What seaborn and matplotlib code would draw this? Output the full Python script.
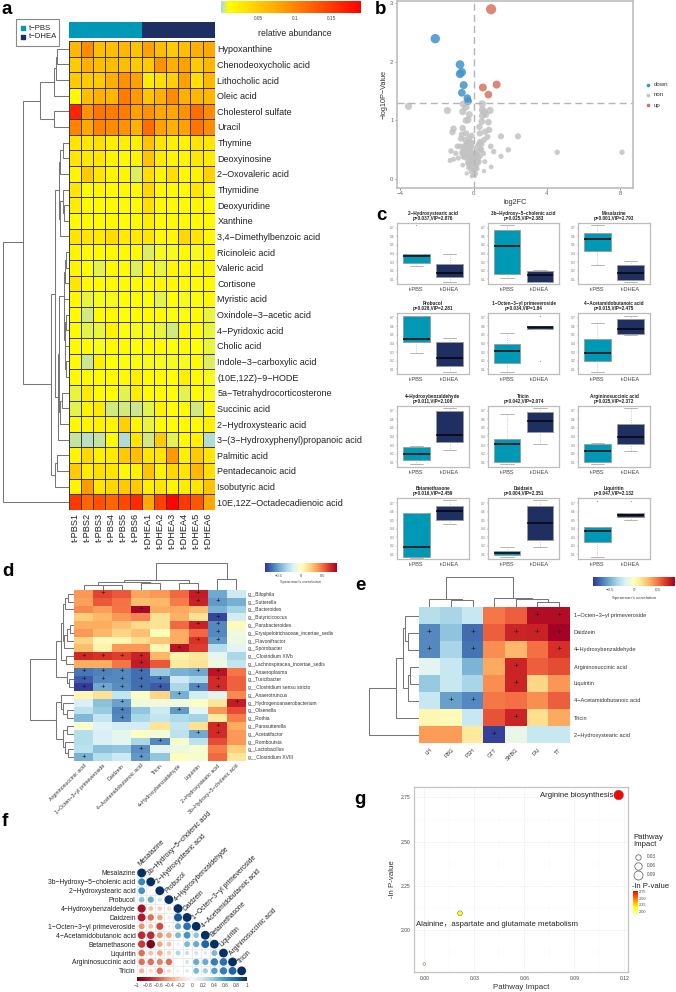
import numpy as np
import pandas as pd
import matplotlib
matplotlib.use("Agg")
import matplotlib.pyplot as plt
import seaborn as sns
from matplotlib.colors import LinearSegmentedColormap, ListedColormap

# ------- FIGURE SIZE ---------
W, H = 676, 992
PBS_COLOR = "#0099b5"
DHEA_COLOR = "#1f2f62"
GREY_LINE = "#777777"

# ------- PANEL A DATA ---------
METABOLITES_A = ["Hypoxanthine", "Chenodeoxycholic acid", "Lithocholic acid", "Oleic acid",
                 "Cholesterol sulfate", "Uracil", "Thymine", "Deoxyinosine", "2−Oxovaleric acid",
                 "Thymidine", "Deoxyuridine", "Xanthine", "3,4−Dimethylbenzoic acid", "Ricinoleic acid",
                 "Valeric acid", "Cortisone", "Myristic acid", "Oxindole−3−acetic acid", "4−Pyridoxic acid",
                 "Cholic acid", "Indole−3−carboxylic acid", "(10E,12Z)−9−HODE", "5a−Tetrahydrocorticosterone",
                 "Succinic acid", "2−Hydroxystearic acid", "3−(3−Hydroxyphenyl)propanoic acid",
                 "Palmitic acid", "Pentadecanoic acid", "Isobutyric acid", "10E,12Z−Octadecadienoic acid"]
SAMPLES_A = ["t-PBS1", "t-PBS2", "t-PBS3", "t-PBS4", "t-PBS5", "t-PBS6",
             "t-DHEA1", "t-DHEA2", "t-DHEA3", "t-DHEA4", "t-DHEA5", "t-DHEA6"]
ABUNDANCE = [
    [.065, .095, .06, .06, .065, .055, .08, .06, .05, .06, .07, .075],
    [.05, .07, .06, .06, .06, .05, .05, .09, .07, .08, .05, .065],
    [.05, .05, .05, .07, .09, .08, .025, .035, .045, .08, .035, .065],
    [.014, .06, .07, .065, .105, .085, .055, .07, .095, .07, .065, .065],
    [.165, .09, .11, .105, .105, .08, .09, .075, .075, .09, .115, .095],
    [.1, .075, .1, .095, .09, .07, .115, .08, .07, .08, .11, .095],
    [.03, .028, .035, .02, .022, .022, .055, .03, .02, .02, .03, .028],
    [.03, .028, .028, .018, .016, .018, .055, .025, .018, .018, .028, .025],
    [.018, .05, .03, .018, .018, .006, .035, .018, .035, .016, .02, .045],
    [.03, .014, .018, .016, .016, .016, .04, .016, .014, .014, .03, .016],
    [.024, .014, .014, .014, .014, .014, .035, .016, .014, .014, .018, .014],
    [.014, .014, .014, .014, .012, .014, .024, .014, .014, .014, .014, .014],
    [.03, .03, .026, .036, .026, .026, .03, .016, .016, .04, .03, .016],
    [.018, .014, .014, .014, .014, .014, .006, .009, .009, .014, .009, .018],
    [.018, .011, .007, .014, .014, .006, .016, .008, .016, .014, .014, .018],
    [.03, .014, .014, .014, .014, .014, .014, .016, .016, .014, .014, .016],
    [.016, .008, .009, .009, .012, .012, .01, .007, .012, .009, .01, .016],
    [.014, .005, .014, .014, .011, .014, .014, .014, .01, .01, .014, .008],
    [.014, .007, .008, .02, .01, .009, .009, .008, .005, .014, .014, .008],
    [.014, .014, .009, .014, .014, .011, .014, .014, .01, .014, .011, .008],
    [.014, .004, .022, .011, .01, .01, .009, .009, .009, .009, .014, .006],
    [.014, .014, .014, .014, .014, .022, .014, .014, .011, .022, .014, .009],
    [.008, .026, .014, .012, .007, .024, .014, .014, .012, .007, .014, .009],
    [.007, .018, .026, .005, .005, .004, .007, .02, .012, .014, .005, .016],
    [.016, .018, .02, .018, .045, .018, .008, .014, .012, .014, .014, .022],
    [.003, .002, .003, .014, .001, .03, .005, .05, .007, .016, .022, .001],
    [.018, .04, .022, .025, .05, .06, .03, .03, .085, .022, .05, .03],
    [.05, .024, .035, .03, .016, .02, .055, .02, .04, .03, .065, .035],
    [.018, .085, .03, .04, .05, .05, .024, .03, .018, .024, .03, .055],
    [.15, .12, .135, .12, .14, .16, .075, .145, .185, .15, .13, .075],
]
GROUP_STRIP = [[0, 0, 0, 0, 0, 0, 1, 1, 1, 1, 1, 1]]
# merge trees: (height, left, right), leaves are row numbers
TREE_A = (1.0, (.69, (.44, (.23, (.2, (.18, 0, 1), 2), 3), (.22, 4, 5)),
                (.27, (.21, (.15, (.135, (.084, 6, 7), 8), (.14, (.09, 9, (.075, 10, 11)), 12)),
                       (.173, (.15, (.08, (.06, (.04, 13, 14), 15),
                                     (.07, 16, (.065, (.05, 17, 18), (.055, 19, (.045, 20, 21))))),
                               (.13, (.11, 22, 23), 24)), 25)),
                 (.21, (.18, 26, 27), 28))), 29)

# ------- PANEL B DATA ---------
DOWN_X = [-2.1, -.75, -.65, -.75, -.55, -.65, -.35, -.3]
DOWN_Y = [2.39, 1.95, 1.82, 1.79, 1.6, 1.47, 1.38, 1.33]
UP_X = [.95, 1.25, .5, .8]
UP_Y = [2.89, 1.61, 1.56, 1.44]
NON_X = [-3.56, -1.44, -1.1, -1.16, -.6, -.56, -.42, -.24, -.42, -.3, -.6, -.42, -.11, -.7, -.65, -.47, -.2,
         -.74, -.89, -.56, -.38, -1.24, -.98, -.84, -1.29, -1.1, -.65, -.47, -.29, -.11, -.6, -.38, -.2, -.11,
         -.29, -.47, -.02, .07, -.11, .13, -.02, .16, .25, .35, .16, .53, .35, .44, .56, .75, .84, .62, .31,
         .8, .44, .65, .47, .89, .47, .58, .47, .93, 1.09, 1.49, 2.42, 1.89, 1.49, .95, .56, 4.56, 8.1,
         -.3, -.15, -.25, -.35, -.05, .05, .2, .3, .1, -.5, -.4, -.18, -.08, .12, .22, .38, -.55, -.32, -.14,
         .02, .28, .42, .6, -.25, -.1, .18, .33,
         -.62, -.52, -.43, -.33, -.24, -.16, -.07, .03, .11, .2, .29, -.58, -.47, -.37, -.28, -.19, -.1, -.01,
         .08, .17, .26, -.34, -.24, -.14, -.05, .04, .13, .22, -.2, -.1, 0, .09]
NON_Y = [1.24, 1.17, .86, .8, 1.15, 1.28, 1.23, 1.1, 1.0, 1.01, .87, .78, .74, .69, .76, .67, .64,
         .56, .56, .56, .58, .48, .44, .36, .32, .34, .44, .47, .5, .56, .24, .1, .22, .27,
         .33, .39, .07, .06, .05, .1, .16, .22, .27, .39, .41, .44, .64, .6, .67, .72, .84, .81, .89,
         .97, .98, 1.1, 1.08, 1.17, 1.18, 1.15, 1.28, .56, .47, .73, .73, .5, .39, .21, .14, .46, .46,
         .2, .3, .42, .55, .35, .15, .18, .3, .45, .5, .62, .52, .45, .32, .4, .52, .42, .28, .12,
         .25, .6, .5, .3, .7, .62, .55, .78,
         .48, .52, .56, .49, .53, .47, .44, .43, .46, .42, .48, .38, .36, .4, .37, .41, .36, .38,
         .35, .33, .36, .27, .29, .26, .3, .28, .24, .3, .17, .2, .15, .18]
VOLCANO_TICKS_X = [-4, 0, 4, 8]
VOLCANO_TICKS_Y = [0, 1, 2, 3]

# ------- PANEL C DATA ---------
# low whisker, q1, median, q3, high whisker on the scale of each small plot
BOX_GROUPS = ["t-PBS", "t-DHEA"]
BOX_TITLES = ["2−Hydroxystearic acid\np=0.037,VIP=2.876", "3b−Hydroxy−5−cholenic acid\np=0.025,VIP=2.383",
              "Mesalazine\np=0.001,VIP=2.793", "Probucol\np=0.028,VIP=2.281",
              "1−Octen−3−yl primeveroside\np=0.034,VIP=1.84", "4−Acetamidobutanoic acid\np=0.015,VIP=2.475",
              "4−Hydroxybenzaldehyde\np=0.011,VIP=2.108", "Tricin\np=0.042,VIP=2.074",
              "Argininosuccinic acid\np=0.025,VIP=2.372", "Betamethasone\np=0.016,VIP=2.459",
              "Daidzein\np=0.004,VIP=2.351", "Liquiritin\np=0.047,VIP=2.132"]
BOX_PBS = [[29.5, 34.4, 45.9, 49.7, 49.7], [9.8, 17, 61.7, 88, 96.7], [30.6, 53.6, 73.8, 83.6, 96.7],
           [34.8, 52.7, 58, 94.6, 95.7], [2.7, 17.4, 37.5, 49, 66.8], [2.7, 21, 34.8, 58, 84],
           [4.3, 12, 21, 33.5, 34], [4.3, 8, 37.8, 46.5, 86.5], [4.3, 7.6, 26, 37.3, 39],
           [2, 4, 19, 75, 76], [2.7, 6.6, 10, 13.7, 19], [2.7, 28.6, 45.6, 52, 52]]
BOX_DHEA = [[3.3, 11, 18.6, 32, 49], [2.7, 3.8, 14.8, 20.8, 23], [3.3, 6, 18, 31, 37.7],
            [2.7, 12.5, 27, 52, 59.8], [74, 74, 76.6, 78.8, 78.8], [64.7, 65.8, 74, 90.8, 95.7],
            [28.6, 41, 52, 92, 97], [37.3, 57.3, 74.6, 89.7, 96.8], [26, 37.8, 48.6, 70.8, 96.8],
            [57, 64, 79, 88, 96.7], [20, 31, 59, 88, 96.7], [64, 68.7, 72, 75, 75]]
OUTLIERS_PBS = [[96.7], [], [], [], [], [], [], [], [], [], [], [96]]
OUTLIERS_DHEA = [[], [], [], [], [95.7, 20.6], [], [], [], [], [], [], [96]]
BOX_TICK_LABELS = ["0.1", "0.2", "0.3", "0.4", "0.5", "0.6", "0.7"]

# ------- PANEL D DATA ---------
GENERA = ["g__Bilophila", "g__Sutterella", "g__Bacteroides", "g__Butyricicoccus", "g__Parabacteroides",
          "g__Erysipelotrichaceae_incertae_sedis", "g__Flavonifractor", "g__Sporobacter", "g__Clostridium XlVb",
          "g__Lachnospiracea_incertae_sedis", "g__Anaeroplasma", "g__Turicibacter", "g__Clostridium sensu stricto",
          "g__Anaerotruncus", "g__Hydrogenoanaerobacterium", "g__Olsenella", "g__Rothia", "g__Parasutterella",
          "g__Acetatifactor", "g__Romboutsia", "g__Lactobacillus", "g__Clostridium XVIII"]
METABOLITES_D = ["Argininosuccinic acid", "1−Octen−3−yl primeveroside", "Daidzein", "4−Acetamidobutanoic acid",
                 "Tricin", "4−Hydroxybenzaldehyde", "Liquiritin", "2−Hydroxystearic acid",
                 "3b−Hydroxy−5−cholenic acid"]
CORR_D = [
    [.38, .6, .55, .35, .38, .5, .72, -.5, -.22],
    [.36, .55, .48, .28, .3, .45, .7, -.55, -.48],
    [.42, .36, .47, .8, .33, .34, .28, -.47, -.35],
    [.22, .3, .38, .43, .15, .32, .15, -.78, -.2],
    [.33, .33, .27, .18, .15, .5, .7, -.6, .03],
    [.38, .3, .2, .27, .02, .33, .5, -.6, -.08],
    [.2, .03, .05, .17, .25, .33, .65, -.55, -.1],
    [.28, .07, .38, .38, .04, .75, .62, -.3, -.15],
    [.68, .65, .62, .7, .3, .06, .12, -.13, -.33],
    [.33, .33, .47, .72, .55, .12, .15, -.1, -.25],
    [-.65, -.62, -.6, -.67, -.38, -.47, -.5, .75, .47],
    [-.72, -.6, -.6, -.67, -.65, -.22, -.33, .67, .52],
    [-.8, -.5, -.58, -.67, -.72, -.33, -.6, .67, .52],
    [.05, .15, -.25, -.02, .2, -.48, -.2, -.15, .42],
    [-.18, -.42, -.52, -.08, -.08, -.08, -.02, .13, .72],
    [-.27, -.38, -.62, -.4, -.22, -.55, -.15, .38, .58],
    [-.45, -.25, -.6, -.33, -.25, -.32, -.35, .1, .45],
    [-.03, -.17, -.2, -.2, .13, -.25, .15, .67, .33],
    [-.3, -.18, -.13, -.01, -.07, -.27, -.5, .67, .38],
    [-.3, -.18, -.13, -.33, -.6, -.05, -.27, .58, .38],
    [-.28, -.42, -.4, -.58, -.15, -.1, -.04, .45, .22],
    [-.47, -.3, -.22, -.55, -.4, .01, -.04, .5, .13],
]
SIG_D = [[1, 6], [6, 7], [3], [7], [6, 7], [7], [6, 7], [5], [0, 1, 2, 3], [3], [0, 1, 2, 3, 6, 7],
         [0, 1, 2, 3, 4, 7], [0, 1, 2, 3, 4, 6, 7], [5], [2, 8], [2, 5], [2], [7], [6, 7], [4], [3], [0, 3]]
ROW_TREE_D = (1.0, (.41, (.3, (.25, (.2, (.13, 0, 1), 2), (.22, (.15, (.1, 4, 5), 6), 7)), (.18, 8, 9)),
                    (.17, 10, (.12, 11, 12))),
              (.41, (.3, 13, (.25, 14, (.17, 15, 16))), (.26, (.16, 17, 18), (.2, 19, (.14, 20, 21)))))
COL_TREE_D = (1.0, (.38, (.3, (.2, 0, (.17, 1, 2)), (.25, 3, 4)), (.25, 5, 6)), (.4, 7, 8))
CORR_TICKS = [-.5, 0, .5]
CORR_TICK_LABELS = ["−0.5", "0", "0.5"]

# ------- PANEL E DATA ---------
METABOLITES_E = ["1−Octen−3−yl primeveroside", "Daidzein", "4−Hydroxybenzaldehyde", "Argininosuccinic acid",
                 "Liquiritin", "4−Acetamidobutanoic acid", "Tricin", "2−Hydroxystearic acid"]
CLINICAL_E = ["LH", "FBG", "FSH", "GTT", "SHBG", "FAI", "TT"]
CORR_E = [
    [-.3, -.35, -.25, .48, .55, .8, .8],
    [-.62, -.42, -.7, .55, .72, .73, .85],
    [-.62, -.35, -.68, .42, .3, .5, .68],
    [-.15, -.25, -.48, .35, .72, .55, .6],
    [-.4, -.25, -.35, .42, .72, .2, .4],
    [-.25, -.55, -.62, .48, .5, .42, .55],
    [.05, .03, -.25, .58, .72, .17, .35],
    [.38, .38, .12, -.82, -.12, -.25, -.25],
]
SIG_E = [[5, 6], [0, 2, 4, 5, 6], [0, 2, 6], [4], [4], [1, 2], [4], [3]]
ROW_TREE_E = (1.0, (.45, (.31, (.27, 0, (.22, 1, 2)), (.22, (.18, 3, 4), 5)), 6), 7)
COL_TREE_E = (1.0, (.27, 0, (.22, 1, 2)), (.3, 3, (.28, 4, (.17, 5, 6))))

# ------- PANEL F DATA ---------
METABOLITES_F = ["Mesalazine", "3b−Hydroxy−5−cholenic acid", "2−Hydroxystearic acid", "Probucol",
                 "4−Hydroxybenzaldehyde", "Daidzein", "1−Octen−3−yl primeveroside", "4−Acetamidobutanoic acid",
                 "Betamethasone", "Liquiritin", "Argininosuccinic acid", "Tricin"]
CORR_F = [
    [1],
    [.65, 1],
    [.6, .02, 1],
    [.4, .5, .2, 1],
    [-.85, -.3, -.25, -.2, 1],
    [-.8, -.55, -.4, -.12, .85, 1],
    [-.45, -.3, -.65, -.1, .5, .75, 1],
    [-.75, -.75, -.45, -.4, .45, .6, .4, 1],
    [-.7, -.95, -.4, -.3, .1, .45, .5, .8, 1],
    [-.55, -.3, -.4, -.25, .3, .22, .2, .15, .45, 1],
    [-.55, -.55, -.5, -.55, .01, .2, .5, .5, .7, .75, 1],
    [-.35, -.2, -.55, -.2, .1, .15, .45, .35, .55, .7, .8, 1],
]
F_TICKS = [-1, -.8, -.6, -.4, -.2, 0, .2, .4, .6, .8, 1]
F_TICK_LABELS = ["−1", "−0.8", "−0.6", "−0.4", "−0.2", "0", "0.2", "0.4", "0.6", "0.8", "1"]

# ------- PANEL G DATA ---------
PATHWAY_IMPACT = [.1166, .0214, 0.0]
PATHWAY_LOGP = [2.763, 2.096, 1.81]
G_TICKS_X = [0, .03, .06, .09, .12]
G_TICKS_Y = [2.0, 2.25, 2.5, 2.75]

# ------- STYLE ---------
sns.set_theme(style="white")
plt.rcParams["font.family"] = ["Liberation Sans", "Noto Sans CJK SC", "DejaVu Sans"]
plt.rcParams["axes.unicode_minus"] = True

fig = plt.figure(figsize=(W / 100, H / 100), dpi=100)


def px_axes(x0, y0, x1, y1):
    # axes placed by pixel box of the output image
    return fig.add_axes([x0 / W, 1 - y1 / H, (x1 - x0) / W, (y1 - y0) / H])


def draw_tree(box, tree, n, side):
    ax = px_axes(*box)

    def walk(node):
        if isinstance(node, int):
            return node + .5, 0.0
        h, left, right = node
        p1, h1 = walk(left)
        p2, h2 = walk(right)
        if side == "left":
            ax.plot([h1, h, h, h2], [p1, p1, p2, p2], color=GREY_LINE, lw=.75, solid_joinstyle="miter")
        else:
            ax.plot([p1, p1, p2, p2], [h1, h, h, h2], color=GREY_LINE, lw=.75, solid_joinstyle="miter")
        return (p1 + p2) / 2, h

    walk(tree)
    if side == "left":
        ax.set_xlim(1.01, 0)
        ax.set_ylim(n, 0)
    else:
        ax.set_xlim(0, n)
        ax.set_ylim(0, 1.01)
    ax.axis("off")


def gradient_bar(box, cmap, vmin, vmax, ticks, labels, size, vertical=False):
    ax = px_axes(*box)
    vals = np.linspace(vmin, vmax, 256)
    if vertical:
        ax.imshow(vals[::-1, None], extent=[0, 1, vmin, vmax], aspect="auto", cmap=cmap, vmin=vmin, vmax=vmax)
        ax.set_xticks([])
        ax.yaxis.tick_right()
        ax.set_yticks(ticks)
        ax.set_yticklabels(labels, fontsize=size, color="#444444")
    else:
        ax.imshow(vals[None, :], extent=[vmin, vmax, 0, 1], aspect="auto", cmap=cmap, vmin=vmin, vmax=vmax)
        ax.set_yticks([])
        ax.set_xticks(ticks)
        ax.set_xticklabels(labels, fontsize=size, color="#444444")
    ax.tick_params(length=0, pad=1.5)
    for s in ax.spines.values():
        s.set_visible(False)
    return ax


def sig_annot(sig, nrow, ncol):
    annot = np.full((nrow, ncol), "", dtype=object)
    for i, cols in enumerate(sig):
        for j in cols:
            annot[i, j] = "+"
    return annot


# page wide layer for panel letters and hand placed keys
page = fig.add_axes([0, 0, 1, 1], zorder=10)
page.set_xlim(0, W)
page.set_ylim(H, 0)
page.axis("off")
page.patch.set_alpha(0)
for letter, lx, ly in [("a", 2, 9), ("b", 375, 9), ("c", 376, 216), ("d", 2, 572),
                       ("e", 355, 586), ("f", 2, 821), ("g", 354, 799)]:
    page.text(lx, ly, letter, fontsize=13.5, fontweight="bold", color="black", ha="left", va="center")

# ------- PANEL A ---------
abund_cmap = LinearSegmentedColormap.from_list(
    "abund", [(0, "#add8e6"), (.01 / .188, "#ffff00"), (.07 / .188, "#ffb000"), (1, "#ff0000")])
ax = px_axes(69, 41, 214.7, 510)
sns.heatmap(pd.DataFrame(ABUNDANCE, index=METABOLITES_A, columns=SAMPLES_A), ax=ax, cmap=abund_cmap,
            vmin=0, vmax=.188, cbar=False, linewidths=.5, linecolor="#3a3a3a", xticklabels=True, yticklabels=True)
ax.yaxis.tick_right()
ax.tick_params(length=0, pad=2)
ax.set_yticklabels(METABOLITES_A, rotation=0, fontsize=6.5, color="#222222")
ax.set_xticklabels(SAMPLES_A, rotation=90, fontsize=6.6, color="#222222")

strip = px_axes(69, 22, 214.7, 38)
sns.heatmap(GROUP_STRIP, ax=strip, cmap=ListedColormap([PBS_COLOR, DHEA_COLOR]), cbar=False,
            xticklabels=False, yticklabels=False)
draw_tree((2, 41, 69, 510), TREE_A, 30, "left")
gradient_bar((221, 1, 360, 13.5), abund_cmap, 0, .188, [.05, .1, .15], ["0.05", "0.1", "0.15"], 3.4)
page.text(295, 33, "relative abundance", fontsize=6.2, ha="center", va="center", color="#222222")
page.add_patch(plt.Rectangle((15.6, 19), 43.7, 26.6, fill=False, ec="#888888", lw=.8))
for label, color, ky in [("t−PBS", PBS_COLOR, 28), ("t−DHEA", DHEA_COLOR, 37)]:
    page.scatter([22.7], [ky], s=5, marker="s", color=color)
    page.text(29, ky, label, fontsize=5.6, va="center", color="#222222")

# ------- PANEL B ---------
ax = px_axes(397, 1, 633, 188)
volcano = pd.DataFrame({
    "x": NON_X + DOWN_X + UP_X,
    "y": NON_Y + DOWN_Y + UP_Y,
    "change": ["non"] * len(NON_X) + ["down"] * len(DOWN_X) + ["up"] * len(UP_X),
})
sns.scatterplot(data=volcano, x="x", y="y", hue="change", size="y", sizes=(8, 54), size_norm=(0, 2.9),
                palette={"non": "#c2c2c2", "down": "#3f93cc", "up": "#d5735f"}, alpha=.85, linewidth=0,
                legend=False, ax=ax)
ax.axhline(1.3, color="#b5b5b5", ls=(0, (5, 3)), lw=1)
ax.axvline(0, color="#b5b5b5", ls=(0, (5, 3)), lw=1)
ax.set_xlim(-4.19, 8.7)
ax.set_ylim(-.148, 3.03)
ax.set_xticks(VOLCANO_TICKS_X)
ax.set_yticks(VOLCANO_TICKS_Y)
ax.set_xticklabels([str(t).replace("-", "−") for t in VOLCANO_TICKS_X])
ax.tick_params(labelsize=4.3, length=1.5, width=.5, pad=1, colors="#666666", left=True, bottom=True)
ax.set_xlabel("log2FC", fontsize=5.2, labelpad=2, color="#333333")
ax.set_ylabel("−log10P−Value", fontsize=5.2, labelpad=2, color="#333333")
for s in ax.spines.values():
    s.set_color("#bdbdbd")
    s.set_linewidth(1.2)
for label, color, ky in [("down", "#3f93cc", 85), ("non", "#c2c2c2", 95), ("up", "#d5735f", 105)]:
    page.scatter([648], [ky], s=7, color=color, linewidths=0)
    page.text(654, ky, label, fontsize=4.4, va="center", color="#333333")

# ------- PANEL C ---------
BOX_COLS = [(397, 469), (488, 559), (578, 650)]
BOX_ROWS = [(223, 284), (313, 374), (406, 467), (498.3, 559)]
for i, title in enumerate(BOX_TITLES):
    x0, x1 = BOX_COLS[i % 3]
    y0, y1 = BOX_ROWS[i // 3]
    ax = px_axes(x0, y0, x1, y1)
    values = BOX_PBS[i] + BOX_DHEA[i]
    groups = [BOX_GROUPS[0]] * 5 + [BOX_GROUPS[1]] * 5
    sns.boxplot(x=groups, y=values, hue=groups, order=BOX_GROUPS, hue_order=BOX_GROUPS,
                palette=[PBS_COLOR, DHEA_COLOR], saturation=1, width=.8, whis=(0, 100), dodge=False,
                legend=False, ax=ax,
                boxprops={"edgecolor": "#9a9a9a", "linewidth": .6},
                whiskerprops={"color": "#aaaaaa", "linewidth": .5, "linestyle": ":"},
                capprops={"color": "#aaaaaa", "linewidth": .6},
                medianprops={"color": "#050505", "linewidth": 1.1})
    for pos, outs in enumerate([OUTLIERS_PBS[i], OUTLIERS_DHEA[i]]):
        if outs:
            ax.scatter([pos] * len(outs), outs, s=.7, color="#999999", linewidths=0)
    ax.set_xlim(-.58, 1.58)
    ax.set_ylim(0, 100)
    ax.set_xlabel("")
    ax.set_ylabel("")
    ax.set_yticks(np.linspace(8, 92, len(BOX_TICK_LABELS)))
    ax.set_yticklabels(BOX_TICK_LABELS)
    ax.tick_params(axis="y", labelsize=2.4, length=1, width=.3, pad=.5, colors="#777777", left=True)
    ax.tick_params(axis="x", labelsize=4.1, length=1, width=.3, pad=1, labelcolor="#444444", color="#888888", bottom=True)
    for s in ax.spines.values():
        s.set_color("#bdbdbd")
        s.set_linewidth(.9)
    ax.set_title(title, fontsize=3.3, fontweight="bold", pad=2.5, color="#222222", linespacing=1.0)

# ------- PANEL D ---------
corr_cmap = plt.get_cmap("RdYlBu_r")
ax = px_axes(74, 590, 246, 761)
sns.heatmap(pd.DataFrame(CORR_D, index=GENERA, columns=METABOLITES_D), ax=ax, cmap=corr_cmap, vmin=-.82, vmax=.82,
            cbar=False, annot=sig_annot(SIG_D, len(GENERA), len(METABOLITES_D)), fmt="",
            annot_kws={"fontsize": 5.5, "color": "#111111"}, xticklabels=True, yticklabels=True)
ax.yaxis.tick_right()
ax.tick_params(length=0, pad=1.5)
ax.set_yticklabels(GENERA, rotation=0, fontsize=3.5, color="#333333")
ax.set_xticklabels(METABOLITES_D, fontsize=3.8, color="#333333")
plt.setp(ax.get_xticklabels(), rotation=45, ha="right", rotation_mode="anchor")
draw_tree((30, 590, 74, 761), ROW_TREE_D, len(GENERA), "left")
draw_tree((74, 563, 246, 590), COL_TREE_D, len(METABOLITES_D), "top")
gradient_bar((265, 563, 337, 572), corr_cmap, -.82, .82, CORR_TICKS, CORR_TICK_LABELS, 2.9)
page.text(301, 582, "Spearman's correlation", fontsize=2.9, ha="center", va="center", color="#444444")

# ------- PANEL E ---------
ax = px_axes(418.7, 607, 569.7, 743)
sns.heatmap(pd.DataFrame(CORR_E, index=METABOLITES_E, columns=CLINICAL_E), ax=ax, cmap=corr_cmap, vmin=-.85, vmax=.85,
            cbar=False, annot=sig_annot(SIG_E, len(METABOLITES_E), len(CLINICAL_E)), fmt="",
            annot_kws={"fontsize": 6, "color": "#111111"}, xticklabels=True, yticklabels=True)
ax.yaxis.tick_right()
ax.tick_params(length=0, pad=3)
ax.set_yticklabels(METABOLITES_E, rotation=0, fontsize=4.1, color="#333333")
ax.set_xticklabels(CLINICAL_E, fontsize=3.9, color="#333333")
plt.setp(ax.get_xticklabels(), rotation=45, ha="right", rotation_mode="anchor")
draw_tree((368, 607, 418.7, 743), ROW_TREE_E, len(METABOLITES_E), "left")
draw_tree((418.7, 577, 569.7, 607), COL_TREE_E, len(CLINICAL_E), "top")
gradient_bar((593, 577, 675, 586), corr_cmap, -.85, .85, CORR_TICKS, CORR_TICK_LABELS, 3.2)
page.text(634, 598, "Spearman's correlation", fontsize=3.2, ha="center", va="center", color="#444444")

# ------- PANEL F ---------
ax = px_axes(137.1, 868.5, 246.2, 975.3)
rows, cols, corr = [], [], []
for i, row in enumerate(CORR_F):
    for j, r in enumerate(row):
        rows.append(i + .5)
        cols.append(j + .5)
        corr.append(r)
        ax.add_patch(plt.Rectangle((j, i), 1, 1, fill=False, ec="#e8e8e8", lw=.4))
f_df = pd.DataFrame({"row": rows, "col": cols, "r": corr, "abs_r": np.abs(corr)})
sns.scatterplot(data=f_df, x="col", y="row", hue="r", hue_norm=(-1, 1), palette="RdBu", size="abs_r",
                sizes=(.5, 40), size_norm=(0, 1), linewidth=0, legend=False, ax=ax, clip_on=False)
ax.set_xlim(0, 12)
ax.set_ylim(12, 0)
ax.set_xlabel("")
ax.set_ylabel("")
ax.set_xticks([])
ax.set_yticks(np.arange(12) + .5)
ax.set_yticklabels(METABOLITES_F, fontsize=4.9, color="#222222")
ax.tick_params(length=0, pad=1)
for s in ax.spines.values():
    s.set_visible(False)
for i, name in enumerate(METABOLITES_F):
    ax.text(i + .5, i - .1, name, rotation=45, ha="left", va="bottom", rotation_mode="anchor",
            fontsize=4.9, color="#222222")
gradient_bar((137, 977, 247, 981), "RdBu", -1, 1, F_TICKS, F_TICK_LABELS, 3.5)

# ------- PANEL G ---------
impact_cmap = LinearSegmentedColormap.from_list("impact", ["#ffffc8", "#ffff00", "#ff8000", "#ff0000"])
ax = px_axes(414.3, 786.7, 628, 972)
g_df = pd.DataFrame({"impact": PATHWAY_IMPACT, "logp": PATHWAY_LOGP})
sns.scatterplot(data=g_df, x="impact", y="logp", hue="logp", hue_norm=(1.81, 2.763), palette=impact_cmap,
                size="impact", sizes=(4, 48), size_norm=(0, .1166), edgecolor="#666666", linewidth=.35,
                legend=False, ax=ax)
ax.set_xlim(-.006, .1222)
ax.set_ylim(1.765, 2.81)
ax.set_xticks(G_TICKS_X)
ax.set_xticklabels(["0.00", "0.03", "0.06", "0.09", "0.12"])
ax.set_yticks(G_TICKS_Y)
ax.set_yticklabels(["2.00", "2.25", "2.50", "2.75"])
ax.set_xticks([.015, .045, .075, .105], minor=True)
ax.set_yticks([1.875, 2.125, 2.375, 2.625], minor=True)
ax.grid(True, which="major", color="#eeeeee", lw=.4)
ax.grid(True, which="minor", color="#f6f6f6", lw=.3)
ax.set_axisbelow(True)
ax.tick_params(which="major", labelsize=3.6, length=0, pad=3, colors="#444444")
ax.tick_params(which="minor", length=0)
ax.set_xlabel("Pathway Impact", fontsize=5.7, labelpad=2, color="#333333")
ax.set_ylabel("-ln P-value", fontsize=5.7, labelpad=3, color="#333333")
for s in ax.spines.values():
    s.set_color("#c4c4c4")
    s.set_linewidth(.9)
ax.text(.1132, 2.763, "Arginine biosynthesis", fontsize=5.6, ha="right", va="center", color="#222222")
ax.text(.0435, 2.033, "Alainine，aspartate and glutamate metabolism", fontsize=5.6, ha="center", va="center",
        color="#222222")
page.text(633, 841, "Pathway\nImpact", fontsize=5.6, va="center", color="#222222", linespacing=1.05)
for label, ky, radius in [("0.03", 857, 2.7), ("0.06", 865.5, 3.7), ("0.09", 875, 4.5)]:
    page.scatter([638], [ky], s=(2 * radius * .72) ** 2, facecolor="white", edgecolor="#555555", linewidths=.5)
    page.text(647, ky, label, fontsize=3.4, va="center", color="#444444")
page.text(632, 887, "-ln P-value", fontsize=5.6, va="center", color="#222222")
gradient_bar((632.7, 891, 637, 915), impact_cmap, 1.85, 2.78, [2.0, 2.25, 2.5, 2.75],
             ["2.00", "2.25", "2.50", "2.75"], 2.8, vertical=True)

fig.savefig("out.png", dpi=100)
